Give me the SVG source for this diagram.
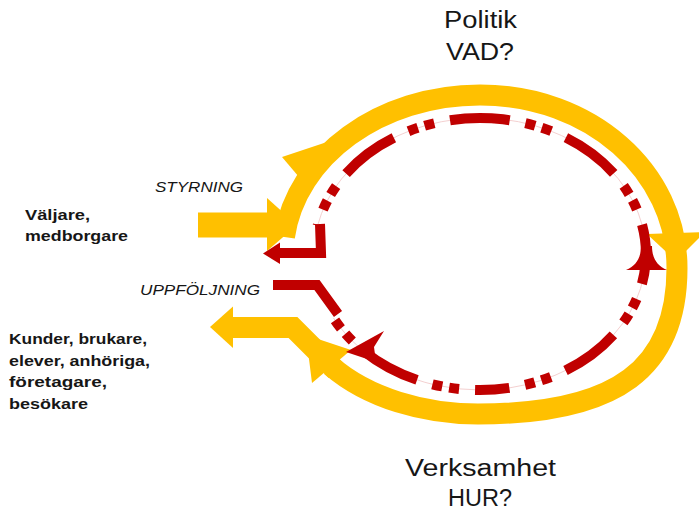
<svg xmlns="http://www.w3.org/2000/svg" width="699" height="511" viewBox="0 0 699 511">
<style>
.t{font-family:"Liberation Sans",Arial,sans-serif;fill:#161616}
.title{font-size:23px}
.lbl{font-size:15px;font-weight:bold}
.it{font-size:15px;font-style:italic}
.y{fill:none;stroke:#FFC000;stroke-width:21}
.yf{fill:#FFC000}
.r{fill:none;stroke:#C00000;stroke-width:10}
.rd{fill:none;stroke:#C00000;stroke-width:10;stroke-dasharray:60 16 10 7 10 16}
.rf{fill:#C00000}
.thin{fill:none;stroke:#f4d0d0;stroke-width:1}
</style>
<rect width="699" height="511" fill="#ffffff"/>
<g id="connectors">
  <g id="yellow-flow">
    <rect class="yf" x="198" y="212.5" width="72" height="25"/>
    <polygon class="yf" points="267,198 267,251 297,225"/>
    <path class="y" d="M284.4,237 C296.2,156 380.2,95 480,95 C590,95 677,171 677,268 C677,368 618,414 478,414 C424,414 368,398 331,366"/>
    <polygon class="yf" points="282,157 336,139 310,190"/>
    <polygon class="yf" points="647,234 705,232 676,261"/>
    <polygon class="yf" points="312,383 351,350 306,335"/>
    <polyline class="y" points="232,327.5 293,327.5 336,370.5"/>
    <polygon class="yf" points="210,327 233,306.5 233,348"/>
  </g>
  <g id="red-flow">
    <path class="thin" d="M317.6,225.7 A166,136 0 1 1 480,390 A166,136 0 0 1 333.4,317.9"/>
    <path class="rd" stroke-dashoffset="59" d="M317.6,225.7 A166,136 0 1 1 480,390"/>
    <path class="rd" stroke-dashoffset="73" d="M333.4,317.9 A166,136 0 0 0 480,390"/>
    <polyline class="r" points="320,224 321,253 279,253"/>
    <polygon class="rf" points="263,253.5 280,242.5 280,264"/>
    <polyline class="r" points="273,285 317,285 338,314"/>
    <path class="rf" d="M626,270 C636,266 641,258 641,246 L652,246 C652,258 657,266 667,270 Z"/>
    <polygon class="rf" points="346,352 384,331 374,347 376,362"/>
  </g>
</g>
<g id="node-politik">
  <text class="t title" x="444" y="28" textLength="73" lengthAdjust="spacingAndGlyphs">Politik</text>
  <text class="t title" x="446" y="60" textLength="68" lengthAdjust="spacingAndGlyphs">VAD?</text>
</g>
<g id="node-verksamhet">
  <text class="t title" x="405" y="476" textLength="151" lengthAdjust="spacingAndGlyphs">Verksamhet</text>
  <text class="t title" x="448" y="506" textLength="64" lengthAdjust="spacingAndGlyphs">HUR?</text>
</g>
<g id="node-valjare">
  <text class="t lbl" x="25" y="220" textLength="65" lengthAdjust="spacingAndGlyphs">Väljare,</text>
  <text class="t lbl" x="25" y="241" textLength="103" lengthAdjust="spacingAndGlyphs">medborgare</text>
</g>
<g id="node-kunder">
  <text class="t lbl" x="9" y="344" textLength="138" lengthAdjust="spacingAndGlyphs">Kunder, brukare,</text>
  <text class="t lbl" x="9" y="366" textLength="141" lengthAdjust="spacingAndGlyphs">elever, anhöriga,</text>
  <text class="t lbl" x="9" y="387" textLength="98" lengthAdjust="spacingAndGlyphs">företagare,</text>
  <text class="t lbl" x="9" y="409" textLength="79" lengthAdjust="spacingAndGlyphs">besökare</text>
</g>
<g id="label-styrning">
  <text class="t it" x="155" y="192" textLength="88" lengthAdjust="spacingAndGlyphs">STYRNING</text>
</g>
<g id="label-uppfoljning">
  <text class="t it" x="140" y="295" textLength="120" lengthAdjust="spacingAndGlyphs">UPPFÖLJNING</text>
</g>
</svg>
